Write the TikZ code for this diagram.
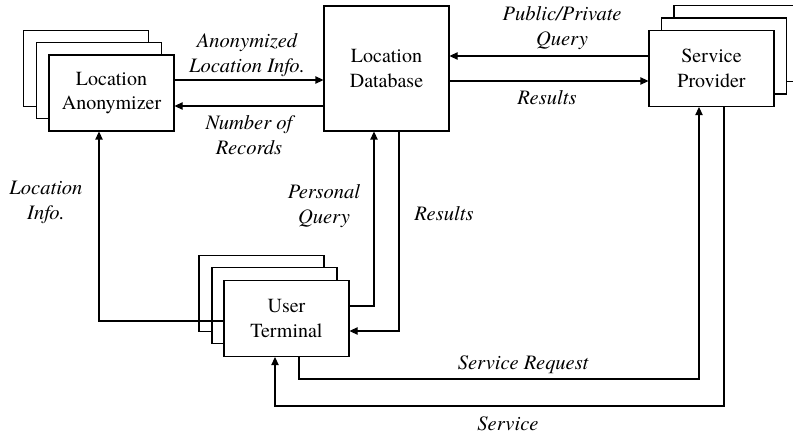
\documentclass[tikz,border=0pt]{standalone}
\usepackage{fontspec}
\setmainfont{TeX Gyre Termes}
\usetikzlibrary{arrows.meta}
\begin{document}
\begin{tikzpicture}[x=0.75pt,y=-0.75pt,
  line width=0.8pt,
  box/.style={draw, fill=white, minimum width=93.75pt, minimum height=57pt,
    inner sep=0pt, align=center, font=\fontsize{15}{18.6}\selectfont},
  dbbox/.style={box, minimum height=93.75pt},
  lbl/.style={align=center, inner sep=0pt, font=\fontsize{15.4}{18.6}\selectfont\itshape},
  arr/.style={-{Triangle[length=6pt,width=5.5pt]}}]
\useasboundingbox (0,0) rectangle (793,435);

% Location anonymizer (stacked)
\node[box] (anon3) at (86,68.5) {};
\node[box] (anon2) at (99,80.5) {};
\node[box] (anon) at (111.5,93) {Location\\Anonymizer};

% Location database
\node[dbbox] (db) at (386.5,68.5) {Location\\Database};

% Service provider (stacked)
\node[box] (sp3) at (736.5,43.5) {};
\node[box] (sp2) at (724,56) {};
\node[box] (sp) at (711.5,68.5) {Service\\Provider};

% User terminal (stacked)
\node[box] (ut3) at (261.5,293.5) {};
\node[box] (ut2) at (274.5,305.5) {};
\node[box] (ut) at (286.5,318.5) {User\\Terminal};

% Anonymizer <-> database
\draw[arr] (anon.east |- 0,80) -- (db.west |- 0,80);
\draw[arr] (db.west |- 0,106) -- (anon.east |- 0,106);

% Database <-> service provider
\draw[arr] (sp.west |- 0,56) -- (db.east |- 0,56);
\draw[arr] (db.east |- 0,81) -- (sp.west |- 0,81);

% Terminal <-> database
\draw[arr] (ut.east |- 0,306) -| (db.south -| 374,0);
\draw[arr] (db.south -| 399,0) |- (ut.east |- 0,331);

% Terminal -> anonymizer
\draw[arr] (ut.west |- 0,321) -| (anon.south -| 99,0);

% Terminal <-> service provider
\draw[arr] (ut.south -| 299,0) |- (699,379) -- (sp.south -| 699,0);
\draw[arr] (sp.south -| 724,0) |- (275,406) -- (ut.south -| 275,0);

% Labels
\node[lbl] (l1) at (247,55.5) {Anonymized\\Location Info.};
\node[lbl] (l2) at (249,135.5) {Number of\\Records};
\node[lbl] (l3) at (562,28.5) {Public/Private\\Query};
\node[lbl, anchor=base] (l4) at (547,104) {Results};
\node[lbl] (l5) at (46,202.5) {Location\\Info.};
\node[lbl] (l6) at (324,206) {Personal\\Query};
\node[lbl, anchor=base] (l7) at (444,220) {Results};
\node[lbl, anchor=base] (l8) at (523,369) {Service Request};
\node[lbl, anchor=base] (l9) at (508,430) {Service};
\end{tikzpicture}
\end{document}
